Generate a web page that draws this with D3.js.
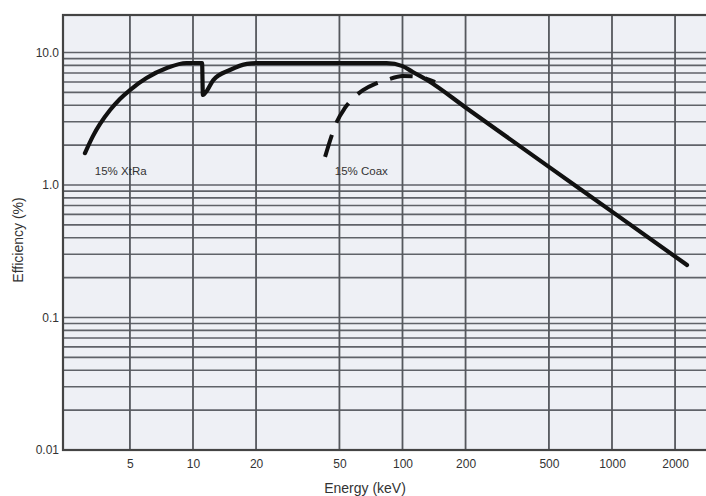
<!doctype html>
<html lang="en">
<head>
    <meta charset="utf-8">
    <title>Efficiency vs Energy</title>
    <script src="https://cdn.jsdelivr.net/npm/d3@7"></script>
    <style>
        body { margin: 0; background: #fff; }
        svg { display: block; font-family: "Liberation Sans", Arial, sans-serif; }
    </style>
</head>
<body>
    <svg width="706" height="496"></svg>

    <script>
        // 15% XtRa detector, [energy keV, efficiency %]
        var xtraEnergy = [3.05, 3.33, 3.6, 4.02, 4.48, 5.0, 6.0, 7.5, 9.3, 11.05, 11.15, 11.7, 12.5, 15.0, 18.1, 21, 40, 84, 100, 112, 131, 200, 500, 1000, 2280];
        var xtraEff    = [1.74, 2.34, 2.89, 3.68, 4.46, 5.21, 6.42, 7.64, 8.34, 8.34, 4.78, 5.2, 6.2, 7.38, 8.2, 8.34, 8.34, 8.34, 7.9, 7.13, 6.2, 3.85, 1.37, 0.63, 0.249];

        // 15% Coax detector
        var coaxEnergy = [42.7, 46, 48.6, 53, 58, 64.8, 74, 84, 100, 121, 143];
        var coaxEff    = [1.63, 2.38, 3.0, 3.8, 4.5, 5.2, 5.8, 6.2, 6.65, 6.53, 5.98];

        var xTicks = [5, 10, 20, 50, 100, 200, 500, 1000, 2000];
        var yTicks = [0.01, 0.1, 1, 10];
        var yTickLabels = ["0.01", "0.1", "1.0", "10.0"];

        var mLeft = 63, mRight = 706, mTop = 15, mBottom = 450;
        var width = mRight - mLeft, height = mBottom - mTop;

        var x = d3.scaleLog().domain([2.396, 2810]).range([0, width]);
        var y = d3.scaleLog().domain([0.01, 19.2]).range([height, 0]);

        var svg = d3.select("svg");
        var g = svg.append("g").attr("transform", "translate(" + mLeft + "," + mTop + ")");

        g.append("rect")
            .attr("width", width + 10)
            .attr("height", height)
            .attr("fill", "#eef0f5");

        // horizontal grid, every 1..9 in each decade
        g.append("g")
            .selectAll("line")
            .data(y.ticks().filter(function(d) { return d > 0.01 && d < 19; }))
            .enter()
            .append("line")
            .attr("x1", 0).attr("x2", width + 10)
            .attr("y1", function(d) { return y(d); })
            .attr("y2", function(d) { return y(d); })
            .attr("stroke", "#5f6268")
            .attr("stroke-width", 1.6);

        // vertical grid
        g.append("g")
            .selectAll("line")
            .data(xTicks)
            .enter()
            .append("line")
            .attr("y1", 0).attr("y2", height)
            .attr("x1", function(d) { return x(d); })
            .attr("x2", function(d) { return x(d); })
            .attr("stroke", "#55585d")
            .attr("stroke-width", 1.8);

        g.append("rect")
            .attr("width", width + 10)
            .attr("height", height)
            .attr("fill", "none")
            .attr("stroke", "#444")
            .attr("stroke-width", 2.2);

        // axes labels
        var yAxis = g.append("g")
            .call(d3.axisLeft(y).tickValues(yTicks).tickSize(0).tickPadding(4)
                .tickFormat(function(d, i) { return yTickLabels[i]; }));
        yAxis.select(".domain").remove();
        yAxis.selectAll("text").attr("font-size", 12).attr("fill", "#333")
            .attr("font-family", "Liberation Sans, Arial, sans-serif");

        var xAxis = g.append("g")
            .attr("transform", "translate(0," + height + ")")
            .call(d3.axisBottom(x).tickValues(xTicks).tickSize(0).tickPadding(9)
                .tickFormat(d3.format("d")));
        xAxis.select(".domain").remove();
        xAxis.selectAll("text").attr("font-size", 12).attr("fill", "#333")
            .attr("font-family", "Liberation Sans, Arial, sans-serif");

        svg.append("text")
            .attr("x", 365)
            .attr("y", 493)
            .attr("text-anchor", "middle")
            .attr("font-size", 14)
            .attr("fill", "#333")
            .text("Energy (keV)");

        svg.append("text")
            .attr("transform", "translate(23,240) rotate(-90)")
            .attr("text-anchor", "middle")
            .attr("font-size", 14)
            .attr("fill", "#333")
            .text("Efficiency (%)");

        // curves
        var line = d3.line()
            .x(function(d) { return x(d[0]); })
            .y(function(d) { return y(d[1]); })
            .curve(d3.curveMonotoneX);

        var xtra = xtraEnergy.map(function(e, i) { return [e, xtraEff[i]]; });
        var coax = coaxEnergy.map(function(e, i) { return [e, coaxEff[i]]; });

        g.append("path")
            .datum(coax)
            .attr("d", line)
            .attr("fill", "none")
            .attr("stroke", "#111")
            .attr("stroke-width", 4)
            .attr("stroke-dasharray", "23,13");

        g.append("path")
            .datum(xtra)
            .attr("d", line)
            .attr("fill", "none")
            .attr("stroke", "#111")
            .attr("stroke-width", 4.2)
            .attr("stroke-linecap", "round")
            .attr("stroke-linejoin", "miter");

        // series labels
        g.append("text")
            .attr("x", x(3.4))
            .attr("y", y(1.28))
            .attr("font-size", 11.5)
            .attr("fill", "#333")
            .attr("dy", "0.35em")
            .text("15% XtRa");

        g.append("text")
            .attr("x", x(47.5))
            .attr("y", y(1.28))
            .attr("font-size", 11.5)
            .attr("fill", "#333")
            .attr("dy", "0.35em")
            .text("15% Coax");
    </script>
</body>
</html>
